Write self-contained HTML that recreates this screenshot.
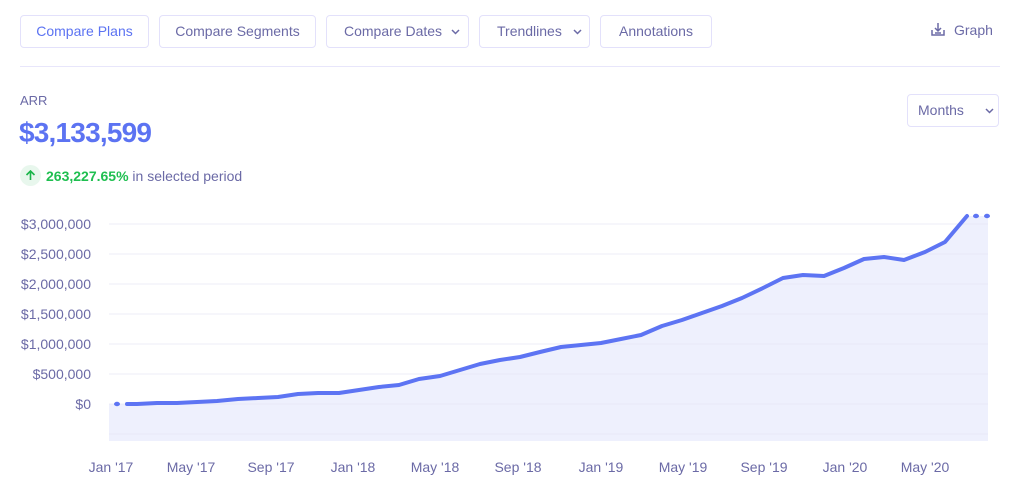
<!DOCTYPE html>
<html><head><meta charset="utf-8"><style>
body{margin:0;width:1022px;height:496px;background:#fff;font-family:"Liberation Sans",sans-serif;color:#6b6aa6;position:relative;overflow:hidden}
.btn{position:absolute;top:15px;height:33px;border:1px solid #e3e1fb;border-radius:4px;box-sizing:border-box;font-size:14px;line-height:31px;text-align:center;color:#6b6aa6}
.abs{position:absolute}
.chev{position:absolute;font-size:10px}
</style></head><body>
<div class="btn" style="left:20px;width:129px;color:#5c73f2">Compare Plans</div>
<div class="btn" style="left:159px;width:157px">Compare Segments</div>
<div class="btn" style="left:326px;width:143px;text-align:left;padding-left:17px">Compare Dates<svg class="chev" style="left:124px;top:13px" width="9" height="6"><path d="M1 1l3.5 3.5L8 1" stroke="#6b6aa6" stroke-width="1.5" fill="none"/></svg></div>
<div class="btn" style="left:479px;width:111px;text-align:left;padding-left:17px">Trendlines<svg class="chev" style="left:93px;top:13px" width="9" height="6"><path d="M1 1l3.5 3.5L8 1" stroke="#6b6aa6" stroke-width="1.5" fill="none"/></svg></div>
<div class="btn" style="left:600px;width:112px">Annotations</div>
<svg class="abs" style="left:930px;top:22px" width="16" height="15"><path d="M8 1v8M5 6l3 3 3-3M2 8v5h12V8M5 11h6" stroke="#6b6aa6" stroke-width="1.5" fill="none"/></svg>
<div class="abs" style="left:954px;top:22px;font-size:14px">Graph</div>
<div class="abs" style="left:20px;top:66px;width:980px;height:1px;background:#e8e6fb"></div>
<div class="abs" style="left:20px;top:93px;font-size:13px">ARR</div>
<div class="abs" style="left:19px;top:117px;font-size:28px;color:#5c73f2;font-weight:bold;letter-spacing:-0.8px">$3,133,599</div>
<div class="abs" style="left:20px;top:165px;width:21px;height:21px;border-radius:50%;background:#e8f7ed"></div>
<svg class="abs" style="left:25px;top:170px" width="11" height="11"><path d="M5.5 10V1.5M1.5 5l4-4 4 4" stroke="#1ab54a" stroke-width="1.6" fill="none"/></svg>
<div class="abs" style="left:46px;top:168px;font-size:14px"><b style="color:#1fbf50">263,227.65%</b> in selected period</div>
<div class="btn" style="left:907px;top:94px;width:92px;height:33px;text-align:left;padding-left:10px">Months<svg class="chev" style="left:77px;top:13px" width="9" height="6"><path d="M1 1l3.5 3.5L8 1" stroke="#6b6aa6" stroke-width="1.5" fill="none"/></svg></div>
<svg class="abs" style="left:0;top:0" width="1022" height="496" font-family="Liberation Sans, sans-serif" font-size="14" fill="#6b6aa6">
<path fill="#eef0fd" d="M109 404 L116 404 L137 404 L157 403 L177 403 L197 402 L217 401 L238 399 L258 398 L278 397 L298 394 L318 393 L339 393 L359 390 L379 387 L399 385 L419 379 L440 376 L460 370 L480 364 L500 360 L520 357 L540 352 L561 347 L581 345 L601 343 L621 339 L641 335 L662 326 L682 320 L702 313 L722 306 L742 298 L763 288 L783 278 L803 275 L824 276 L844 268 L864 259 L884 257 L904 260 L925 252 L945 242 L967 216 L988 216 L988 441 L109 441 Z"/>
<g stroke="#e6e5f4" stroke-width="1" opacity="0.7">
<line x1="109" x2="988" y1="224" y2="224"/><line x1="109" x2="988" y1="254" y2="254"/><line x1="109" x2="988" y1="284" y2="284"/><line x1="109" x2="988" y1="314" y2="314"/><line x1="109" x2="988" y1="344" y2="344"/><line x1="109" x2="988" y1="374" y2="374"/><line x1="109" x2="988" y1="404" y2="404"/><line x1="109" x2="988" y1="434" y2="434"/>
</g>
<g text-anchor="end">
<text x="91" y="229">$3,000,000</text><text x="91" y="259">$2,500,000</text><text x="91" y="289">$2,000,000</text><text x="91" y="319">$1,500,000</text><text x="91" y="349">$1,000,000</text><text x="91" y="379">$500,000</text><text x="91" y="409">$0</text>
</g>
<g text-anchor="middle">
<text x="111" y="472">Jan '17</text><text x="191" y="472">May '17</text><text x="271" y="472">Sep '17</text><text x="353" y="472">Jan '18</text><text x="435" y="472">May '18</text><text x="518" y="472">Sep '18</text><text x="601" y="472">Jan '19</text><text x="683" y="472">May '19</text><text x="764" y="472">Sep '19</text><text x="845" y="472">Jan '20</text><text x="925" y="472">May '20</text>
</g>
<path fill="none" stroke="#5d74f3" stroke-width="4" stroke-linejoin="round" stroke-linecap="round" d="M127 404 L137 404 L157 403 L177 403 L197 402 L217 401 L238 399 L258 398 L278 397 L298 394 L318 393 L339 393 L359 390 L379 387 L399 385 L419 379 L440 376 L460 370 L480 364 L500 360 L520 357 L540 352 L561 347 L581 345 L601 343 L621 339 L641 335 L662 326 L682 320 L702 313 L722 306 L742 298 L763 288 L783 278 L803 275 L824 276 L844 268 L864 259 L884 257 L904 260 L925 252 L945 242 L967 216"/>
<g fill="#5d74f3"><ellipse cx="117" cy="404" rx="3" ry="2.2"/><ellipse cx="976" cy="216" rx="3" ry="2.2"/><ellipse cx="987" cy="216" rx="3" ry="2.2"/></g>
</svg>
</body></html>
